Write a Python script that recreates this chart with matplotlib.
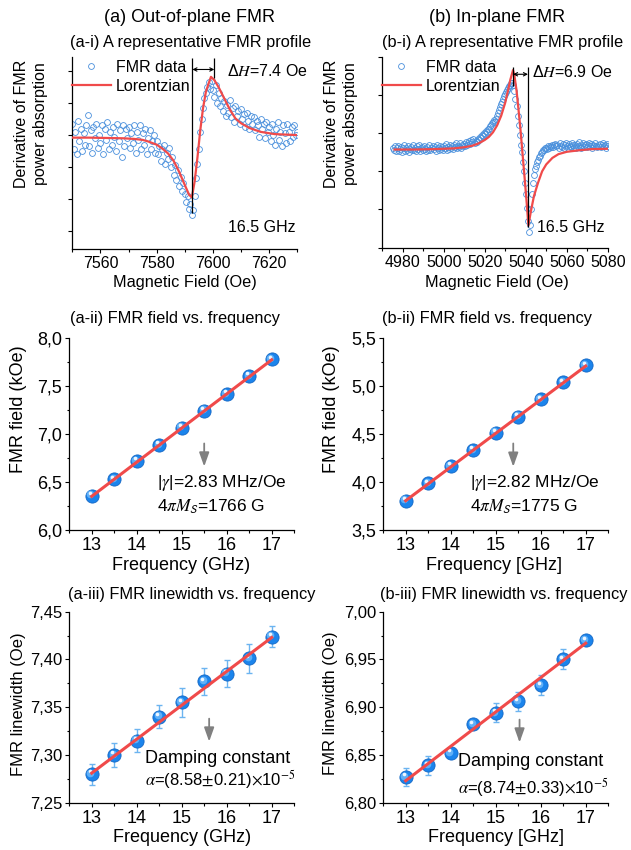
import numpy as np
import matplotlib
matplotlib.use('Agg')
import matplotlib.pyplot as plt
from matplotlib.ticker import MultipleLocator, FuncFormatter
from matplotlib.transforms import offset_copy

plt.rcParams['font.family'] = ['Liberation Sans', 'DejaVu Sans']
plt.rcParams['mathtext.fontset'] = 'stix'

W, H = 631, 850

# ---- (a-i) out-of-plane FMR profile at 16.5 GHz (arb. units) ----
oop_field = np.arange(7550, 7630.01, 0.5)
oop_signal = [
    0.35, -0.45, 0.10, -0.60, 0.45, -0.20, 0.20, -0.50, 0.05, -0.30,
    0.30, 0.62, -0.35, 0.15, -0.55, 0.25, -0.10, 0.35, -0.40, 0.00,
    -0.25, 0.30, -0.60, 0.20, -0.15, 0.40, -0.45, 0.10, -0.30, 0.25,
    -0.05, -0.50, 0.35, -0.20, 0.15, -0.70, 0.30, -0.35, 0.20, -0.10,
    0.25, -0.40, 0.05, -0.25, 0.30, -0.55, 0.10, -0.15, 0.30, -0.45,
    0.05, -0.30, 0.20, -0.60, -0.10, 0.15, -0.45, -0.20, 0.00, -0.55,
    -0.20, -0.60, -0.35, -0.80, -0.45, -0.30, -0.90, -0.55, -0.75, -0.40,
    -1.00, -0.70, -1.25, -0.95, -1.40, -1.10, -1.60, -1.30, -1.75, -1.50,
    -1.85, -2.10, -1.90, -2.30, -2.15, -2.50, -2.35, -1.90, -1.35, -0.90,
    -0.45, 0.10, 0.50, 0.85, 1.15, 1.30, 1.50, 1.65, 1.45, 1.70,
    1.40, 1.20, 1.55, 1.00, 1.30, 0.90, 1.15, 0.75, 1.05, 0.60,
    0.95, 0.70, 1.10, 0.55, 0.85, 0.40, 0.90, 0.60, 0.75, 0.35,
    0.80, 0.50, 0.65, 0.25, 0.70, 0.45, 0.20, 0.60, 0.35, 0.55,
    0.15, 0.45, 0.30, -0.05, 0.50, 0.20, 0.35, -0.10, 0.40, 0.10,
    0.25, -0.20, 0.35, 0.00, -0.30, 0.20, 0.40, -0.15, 0.10, -0.35,
    0.30, 0.05, -0.25, 0.35, 0.10, -0.20, 0.25, -0.05, 0.30, 0.00,
    0.10]
oop_fit_field = [7550, 7556, 7562, 7568, 7572, 7575, 7577, 7580, 7582, 7584,
                 7586, 7588, 7590, 7591.5, 7592.5, 7593.5, 7594.5, 7595.5, 7596.5, 7597.5,
                 7598.5, 7599.3, 7600.5, 7602, 7604, 7606, 7608, 7610, 7613, 7617,
                 7622, 7630]
oop_fit_signal = [-0.08, -0.08, -0.09, -0.10, -0.12, -0.15, -0.20, -0.30, -0.42, -0.57,
                  -0.80, -1.15, -1.56, -1.86, -1.95, -1.45, -0.70, 0.15, 0.85, 1.35,
                  1.62, 1.82, 1.72, 1.50, 1.15, 0.80, 0.52, 0.37, 0.22, 0.10,
                  0.03, 0.00]
oop_min_field, oop_max_field = 7592.7, 7600.5

# ---- (b-i) in-plane FMR profile at 16.5 GHz ----
ip_field = np.arange(4975, 5080.01, 0.5)
ip_signal = [
    -0.38, -0.45, -0.35, -0.48, -0.40, -0.33, -0.47, -0.42, -0.36, -0.50,
    -0.40, -0.30, -0.46, -0.38, -0.44, -0.34, -0.49, -0.41, -0.37, -0.45,
    -0.32, -0.43, -0.39, -0.48, -0.35, -0.42, -0.30, -0.46, -0.40, -0.36,
    -0.44, -0.33, -0.41, -0.47, -0.37, -0.43, -0.31, -0.45, -0.39, -0.35,
    -0.42, -0.36, -0.46, -0.32, -0.40, -0.44, -0.34, -0.41, -0.37, -0.45,
    -0.33, -0.40, -0.29, -0.43, -0.36, -0.41, -0.31, -0.39, -0.35, -0.42,
    -0.30, -0.37, -0.27, -0.40, -0.33, -0.36, -0.25, -0.38, -0.30, -0.34,
    -0.28, -0.33, -0.22, -0.30, -0.26, -0.20, -0.29, -0.18, -0.24, -0.15,
    -0.25, -0.20, -0.22, -0.15, -0.18, -0.10, -0.13, -0.06, -0.08, 0.00,
    -0.02, 0.05, 0.03, 0.10, 0.12, 0.18, 0.20, 0.26, 0.28, 0.35,
    0.30, 0.38, 0.45, 0.52, 0.60, 0.68, 0.75, 0.82, 0.90, 0.97,
    1.02, 1.08, 1.13, 1.18, 1.22, 1.27, 1.30, 1.32, 1.25, 1.10,
    0.90, 0.70, 0.45, 0.20, -0.05, -0.30, -0.50, -0.75, -1.00, -1.30,
    -1.60, -1.95, -2.30, -2.60, -2.40, -2.00, -1.60, -1.30, -1.10, -0.95,
    -0.85, -0.75, -0.70, -0.62, -0.60, -0.52, -0.50, -0.45, -0.44, -0.40,
    -0.38, -0.42, -0.35, -0.40, -0.33, -0.37, -0.30, -0.36, -0.32, -0.28,
    -0.35, -0.30, -0.38, -0.27, -0.33, -0.36, -0.29, -0.40, -0.31, -0.26,
    -0.34, -0.39, -0.28, -0.33, -0.37, -0.25, -0.32, -0.36, -0.30, -0.40,
    -0.29, -0.35, -0.24, -0.33, -0.38, -0.30, -0.27, -0.36, -0.32, -0.28,
    -0.37, -0.31, -0.26, -0.34, -0.29, -0.38, -0.30, -0.35, -0.25, -0.33,
    -0.36, -0.30, -0.28, -0.37, -0.32, -0.26, -0.35, -0.31, -0.39, -0.29,
    -0.33]
ip_fit_field = [4976, 4985, 4995, 5005, 5010, 5014, 5017, 5020, 5022, 5024,
                5026, 5028, 5030, 5031.5, 5032.5, 5033.8, 5034.5, 5035.5, 5036.5, 5037.5,
                5038.5, 5039.5, 5040.5, 5041.3, 5042.5, 5044, 5046, 5048, 5050, 5053,
                5056, 5060, 5066, 5072, 5080]
ip_fit_signal = [-0.43, -0.43, -0.42, -0.40, -0.37, -0.33, -0.27, -0.18, -0.10, 0.02,
                 0.20, 0.45, 0.80, 1.15, 1.40, 1.65, 1.50, 1.12, 0.60, 0.05,
                 -0.58, -1.20, -1.85, -2.42, -2.05, -1.65, -1.30, -1.00, -0.82, -0.65,
                 -0.55, -0.49, -0.45, -0.42, -0.41]
ip_max_field, ip_min_field = 5033.8, 5041.1

# ---- (ii) resonance field vs frequency, (iii) linewidth vs frequency ----
freq = [13, 13.5, 14, 14.5, 15, 15.5, 16, 16.5, 17]
fit_freq = [13, 17]
oop_hres = [6.357, 6.527, 6.718, 6.884, 7.064, 7.241, 7.414, 7.601, 7.775]
oop_hres_fit = [6.350, 7.770]
ip_hres = [3.805, 3.985, 4.165, 4.332, 4.512, 4.679, 4.859, 5.036, 5.212]
ip_hres_fit = [3.805, 5.205]
oop_dh = [7.280, 7.300, 7.315, 7.340, 7.355, 7.377, 7.385, 7.401, 7.424]
oop_dh_err = [0.011, 0.013, 0.012, 0.012, 0.015, 0.014, 0.014, 0.015, 0.011]
oop_dh_fit = [7.281, 7.423]
ip_dh = [6.827, 6.839, 6.852, 6.882, 6.894, 6.906, 6.923, 6.950, 6.970]
ip_dh_err = [0.009, 0.0095, 0.004, 0.003, 0.010, 0.0095, 0.0105, 0.0105, 0.004]
ip_dh_fit = [6.823, 6.967]

BLUE = '#4a90dc'
RED = '#f04a4a'
GRAY = '#808080'

fig = plt.figure(figsize=(W / 100, H / 100), dpi=100)


def add_ax(left, top, right, bottom):
    ax = fig.add_axes([left / W, 1 - bottom / H, (right - left) / W, (bottom - top) / H])
    ax.spines[['top', 'right']].set_visible(False)
    for s in ('left', 'bottom'):
        ax.spines[s].set_linewidth(0.9)
    ax.tick_params(which='major', direction='out', length=3, width=0.8)
    ax.tick_params(which='minor', direction='out', length=1.8, width=0.8)
    return ax


def ftext(x, y, s, **kw):
    kw.setdefault('ha', 'center')
    kw.setdefault('va', 'center')
    fig.text(x / W, 1 - y / H, s, **kw)


def comma(nd):
    return FuncFormatter(lambda v, p: ('%.*f' % (nd, v)).replace('.', ','))


def balls(ax, x, y):
    ax.plot(x, y, 'o', ms=9.5, mfc='#1b84ec', mec='#1467c4', mew=0.6, zorder=3)
    t1 = offset_copy(ax.transData, fig=fig, x=-0.9, y=1.0, units='points')
    ax.plot(x, y, 'o', ms=5.5, mfc='#5fb0f8', mec='none', transform=t1, zorder=4)
    t2 = offset_copy(ax.transData, fig=fig, x=-1.3, y=1.9, units='points')
    ax.plot(x, y, 'o', ms=2.6, mfc='#eef6ff', mec='none', transform=t2, zorder=5)


def profile(ax, field, signal, fit_f, fit_s, long_x, short_x, y_top, y_short, y_arrow, y_bot):
    ax.plot(field, signal, 'o', ms=4.2, mfc='none', mec=BLUE, mew=0.6, label='FMR data', zorder=2)
    ax.plot(fit_f, fit_s, '-', color=RED, lw=1.6, label='Lorentzian', zorder=3)
    ax.vlines(long_x, y_bot, y_top, color='k', lw=0.9, zorder=4)
    ax.vlines(short_x, y_short, y_top, color='k', lw=0.9, zorder=4)
    ax.annotate('', xy=(max(long_x, short_x), y_arrow), xytext=(min(long_x, short_x), y_arrow),
                arrowprops=dict(arrowstyle='<->', color='k', lw=0.8, shrinkA=0, shrinkB=0,
                                mutation_scale=6))
    ax.tick_params(labelleft=False, labelsize=11.5, pad=2)
    ax.legend(loc='upper left', bbox_to_anchor=(0, 0.985), frameon=False, fontsize=11.5,
              borderpad=0, borderaxespad=0, handlelength=2.4, handletextpad=0.35,
              labelspacing=0.25, numpoints=1)


# ---------------- row 1 ----------------
ax = add_ax(72.3, 57, 297.3, 249)
profile(ax, oop_field, oop_signal, oop_fit_field, oop_fit_signal, oop_min_field, oop_max_field,
        2.42, 1.79, 2.05, -2.42)
ax.set_xlim(7550, 7630)
ax.set_ylim(-3.56, 2.44)
ax.set_yticks(range(-3, 3))
ax.xaxis.set_major_locator(MultipleLocator(20))
ax.xaxis.set_minor_locator(MultipleLocator(10))
ax.text(7604.9, 2.0, r'Δ$H$=7.4 Oe', fontsize=11.5, va='center')
ax.text(7629.3, -2.9, '16.5 GHz', fontsize=11.5, ha='right', va='center')

ax = add_ax(382.3, 56.7, 607.7, 247.7)
profile(ax, ip_field, ip_signal, ip_fit_field, ip_fit_signal, ip_min_field, ip_max_field,
        1.72, 1.22, 1.54, -2.47)
ax.set_xlim(4970, 5080)
ax.set_ylim(-3, 2)
ax.set_yticks(range(-3, 3))
ax.xaxis.set_major_locator(MultipleLocator(20))
ax.xaxis.set_minor_locator(MultipleLocator(10))
ax.text(5043.1, 1.6, r'Δ$H$=6.9 Oe', fontsize=11.5, va='center')
ax.text(5045.5, -2.46, '16.5 GHz', fontsize=11.5, va='center')

# ---------------- row 2 ----------------
panels2 = [
    (69.2, oop_hres, oop_hres_fit, (6.0, 8.0), 15.5, (6.90, 6.66), 14.44, (6.486, 6.24),
     '2.83', '1766'),
    (383.2, ip_hres, ip_hres_fit, (3.5, 5.5), 15.39, (4.40, 4.158), 14.43, (3.986, 3.742),
     '2.82', '1775'),
]
for left, hres, hfit, ylim, ax_x, ay, tx, ty, g, ms in panels2:
    ax = add_ax(left, 337.7, left + 225, 530)
    balls(ax, freq, hres)
    ax.plot(fit_freq, hfit, '-', color=RED, lw=2.2, zorder=6)
    ax.set_xlim(12.5, 17.5)
    ax.set_ylim(*ylim)
    ax.xaxis.set_major_locator(MultipleLocator(1))
    ax.xaxis.set_minor_locator(MultipleLocator(0.5))
    ax.yaxis.set_major_locator(MultipleLocator(0.5))
    ax.yaxis.set_minor_locator(MultipleLocator(0.25))
    ax.yaxis.set_major_formatter(comma(1))
    ax.tick_params(axis='both', labelsize=13)
    ax.tick_params(axis='y', pad=2)
    ax.tick_params(axis='x', pad=2)
    ax.annotate('', xy=(ax_x, ay[1]), xytext=(ax_x, ay[0]),
                arrowprops=dict(arrowstyle='-|>,head_length=0.7,head_width=0.25', color=GRAY,
                                lw=1.3, shrinkA=0, shrinkB=0, mutation_scale=12))
    ax.text(tx, ty[0], r'|$\gamma$|=' + g + ' MHz/Oe', fontsize=12.5, va='center')
    ax.text(tx, ty[1], r'4$\pi M_\mathsf{S}$=' + ms + ' G', fontsize=12.5, va='center')

# ---------------- row 3 ----------------
panels3 = [
    (69.2, oop_dh, oop_dh_err, oop_dh_fit, (7.25, 7.45), 15.61, (7.338, 7.314), 14.19,
     (7.2965, 7.274), '8.58', '0.21'),
    (383.2, ip_dh, ip_dh_err, ip_dh_fit, (6.80, 7.00), 15.53, (6.887, 6.863), 14.17,
     (6.843, 6.816), '8.74', '0.33'),
]
for left, dh, err, dfit, ylim, ax_x, ay, tx, ty, a, da in panels3:
    ax = add_ax(left, 611.7, left + 225, 802.7)
    ax.errorbar(freq, dh, yerr=err, fmt='none', ecolor='#6cb4f0', elinewidth=1.0,
                capsize=2, capthick=1.0, zorder=2)
    balls(ax, freq, dh)
    ax.plot(fit_freq, dfit, '-', color=RED, lw=2.2, zorder=6)
    ax.set_xlim(12.5, 17.5)
    ax.set_ylim(*ylim)
    ax.xaxis.set_major_locator(MultipleLocator(1))
    ax.xaxis.set_minor_locator(MultipleLocator(0.5))
    ax.yaxis.set_major_locator(MultipleLocator(0.05))
    ax.yaxis.set_minor_locator(MultipleLocator(0.025))
    ax.yaxis.set_major_formatter(comma(2))
    ax.tick_params(axis='x', labelsize=13, pad=2)
    ax.tick_params(axis='y', labelsize=12, pad=2)
    ax.annotate('', xy=(ax_x, ay[1]), xytext=(ax_x, ay[0]),
                arrowprops=dict(arrowstyle='-|>,head_length=0.7,head_width=0.25', color=GRAY,
                                lw=1.3, shrinkA=0, shrinkB=0, mutation_scale=12))
    ax.text(tx, ty[0], 'Damping constant', fontsize=13, va='center')
    ax.text(tx, ty[1], r'$\alpha$=(' + a + r'$\pm$' + da + r')$\times$10$^{-5}$',
            fontsize=12, va='center')

# ---------------- titles and labels ----------------
ftext(190, 17, '(a) Out-of-plane FMR', fontsize=13)
ftext(497, 17, '(b) In-plane FMR', fontsize=13)
ftext(191, 43, '(a-i) A representative FMR profile', fontsize=11.8)
ftext(503, 43, '(b-i) A representative FMR profile', fontsize=11.8)
ftext(175, 318, '(a-ii) FMR field vs. frequency', fontsize=11.8)
ftext(487, 318, '(b-ii) FMR field vs. frequency', fontsize=11.8)
ftext(192, 595, '(a-iii) FMR linewidth vs. frequency', fontsize=11.8)
ftext(504, 595, '(b-iii) FMR linewidth vs. frequency', fontsize=11.8)

ftext(31, 124, 'Derivative of FMR\npower absorption', fontsize=11.5, rotation=90,
      multialignment='center', linespacing=1.25)
ftext(341, 124, 'Derivative of FMR\npower absorption', fontsize=11.5, rotation=90,
      multialignment='center', linespacing=1.25)
ftext(185, 283, 'Magnetic Field (Oe)', fontsize=11.7)
ftext(497, 283, 'Magnetic Field (Oe)', fontsize=11.7)

ftext(19, 409, 'FMR field (kOe)', fontsize=13, rotation=90)
ftext(331, 409, 'FMR field (kOe)', fontsize=13, rotation=90)
ftext(181, 565, 'Frequency (GHz)', fontsize=13)
ftext(494, 565, 'Frequency [GHz]', fontsize=13)

ftext(19, 704, 'FMR linewidth (Oe)', fontsize=12, rotation=90)
ftext(331, 703, 'FMR linewidth (Oe)', fontsize=12, rotation=90)
ftext(182, 838, 'Frequency (GHz)', fontsize=13)
ftext(496, 838, 'Frequency [GHz]', fontsize=13)

fig.savefig('out.png', dpi=100)
